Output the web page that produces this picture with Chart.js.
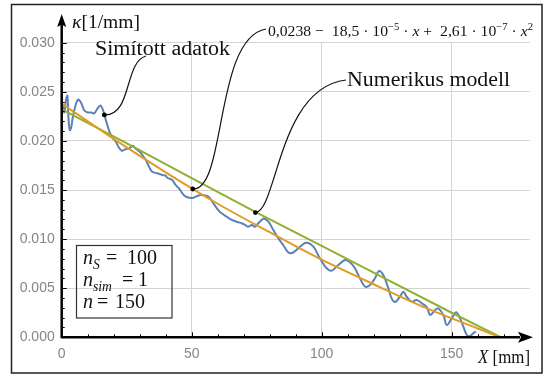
<!DOCTYPE html>
<html>
<head>
<meta charset="utf-8">
<script src="https://cdn.jsdelivr.net/npm/chart.js@4/dist/chart.umd.min.js"></script>
<style>
html,body{margin:0;padding:0;background:#fff;}
canvas{display:block;}
</style>
</head>
<body>
<canvas id="c" width="548" height="376"></canvas>
<script>
// ---- data ----
const blueX = [0.4,1.0,1.65,2.2,2.6,3.1,3.6,4.2,5.2,6.3,7.4,8.7,10.0,11.3,12.5,13.8,14.9,15.8,17.0,18.3,19.6,20.9,21.8,23.1,24.5,26.0,27.3,28.5,30.0,31.0,32.3,33.6,34.8,36.8,38.7,40.0,40.6,42.5,43.8,45.1,46.4,47.7,49.0,50.2,51.8,53.5,55.0,56.6,58.3,60.2,61.5,63.5,65.4,67.3,69.2,70.5,71.8,73.1,74.3,75.6,76.9,77.8,79.5,81.4,83.3,85.2,87.0,88.6,91.0,94.0,96.8,99.3,101.9,103.8,106.4,109.0,110.9,112.8,114.7,116.7,118.6,120.5,122.0,123.7,125.6,126.9,128.2,130.1,131.4,132.7,134.6,136.5,138.5,140.4,141.7,143.6,144.8,146.8,148.1,150.0,151.7,153.2,154.5,155.8,157.0,158.3,159.3];
const blueY = [0.0236,0.0229,0.0242,0.0246,0.0223,0.0211,0.0213,0.0223,0.0235,0.0242,0.0239,0.0231,0.0229,0.0229,0.0228,0.0233,0.0236,0.0232,0.0221,0.0210,0.0203,0.0199,0.0194,0.0190,0.01915,0.01925,0.0195,0.0192,0.0189,0.01858,0.01807,0.01737,0.01686,0.0167,0.01653,0.01646,0.01625,0.01602,0.01551,0.01517,0.01466,0.01432,0.01422,0.01418,0.01435,0.01449,0.01445,0.0143,0.01365,0.01296,0.01263,0.01228,0.01195,0.01177,0.01161,0.01144,0.01126,0.01144,0.01126,0.01161,0.01195,0.0121,0.01177,0.01093,0.01008,0.0094,0.00869,0.00858,0.00906,0.00963,0.00923,0.00804,0.00703,0.00678,0.00736,0.00787,0.00764,0.00703,0.00601,0.00515,0.00533,0.00601,0.00675,0.00634,0.00502,0.00397,0.00359,0.00413,0.00464,0.00413,0.00363,0.0038,0.00346,0.00309,0.00227,0.00278,0.00295,0.00227,0.00125,0.00193,0.00256,0.00193,0.00108,0.00023,0.00013,0.00041,0.00057];
const orangeX = [0,20,40,60,80,100,120,140,160,168.6];
const orangeY = [0.0238,0.0202,0.0168,0.0136,0.0107,0.0079,0.0054,0.0030,0.0009,0.0];
const greenX = [0,24,50,75,100,125,150,169];
const greenY = [0.0232,0.0199,0.0162,0.0127,0.0093,0.0059,0.0025,0.0];
const xTickValues = [0,50,100,150];
const yTickValues = [0,0.005,0.010,0.015,0.020,0.025,0.030];
const labelBlue = 'Simított adatok';
const labelGreen = 'Numerikus modell';
const dotBlue = [16.4, 0.02265];
const dotOrange = [50.4, 0.0151];
const dotGreen = [74.5, 0.0127];

const SERIF = '"Liberation Serif", "Times New Roman", serif';
const SANS = '"Liberation Sans", Arial, sans-serif';

function toPts(xs, ys){ return xs.map((x,i)=>({x:x, y:ys[i]})); }

function runFont(r, size){
  const s = (r.sup||r.sub) ? size*0.68 : size;
  return (r.i ? 'italic ' : '') + s + 'px ' + SERIF;
}
function runsWidth(ctx, runs, size){
  let w = 0;
  runs.forEach(r=>{ ctx.font = runFont(r,size); w += ctx.measureText(r.t).width; });
  return w;
}
function drawRuns(ctx, runs, x, y, size){
  runs.forEach(r=>{
    ctx.font = runFont(r,size);
    let dy = r.sup ? -size*0.38 : (r.sub ? size*0.25 : 0);
    ctx.fillText(r.t, x, y+dy);
    x += ctx.measureText(r.t).width;
  });
}
// draw at a given size, stretched horizontally to a target width
function fitRuns(ctx, runs, x, y, size, targetW){
  const w = runsWidth(ctx, runs, size);
  ctx.save();
  ctx.translate(x, y);
  ctx.scale(targetW / w, 1);
  drawRuns(ctx, runs, 0, 0, size);
  ctx.restore();
}

const deco = {
  id:'deco',
  beforeDraw(chart){
    const ctx = chart.ctx;
    ctx.save(); ctx.fillStyle='#fff'; ctx.fillRect(0,0,chart.width,chart.height); ctx.restore();
  },
  afterDatasetsDraw(chart){
    const ctx = chart.ctx;
    const xs = chart.scales.x, ys = chart.scales.y;
    const x0 = xs.getPixelForValue(0), y0 = ys.getPixelForValue(0);
    ctx.save();
    ctx.strokeStyle = '#000'; ctx.fillStyle = '#000';
    // minor/major ticks (inward)
    ctx.lineWidth = 1;
    for (let v=10; v<=170; v+=10){
      const p = Math.round(xs.getPixelForValue(v))+0.5;
      const L = (v%50===0) ? 5 : 3;
      ctx.beginPath(); ctx.moveTo(p, y0); ctx.lineTo(p, y0-L); ctx.stroke();
    }
    for (let k=1; k<=30; k++){
      const p = Math.round(ys.getPixelForValue(k/1000))+0.5;
      const L = (k%5===0) ? 5 : 3;
      ctx.beginPath(); ctx.moveTo(x0, p); ctx.lineTo(x0+L, p); ctx.stroke();
    }
    // axes
    ctx.lineWidth = 2.5;
    ctx.beginPath(); ctx.moveTo(x0, y0); ctx.lineTo(520, y0); ctx.stroke();
    ctx.beginPath(); ctx.moveTo(x0, y0+1); ctx.lineTo(x0, 24); ctx.stroke();
    ctx.beginPath(); ctx.moveTo(533, y0); ctx.lineTo(518, y0-5.5); ctx.lineTo(521, y0); ctx.lineTo(518, y0+5.5); ctx.closePath(); ctx.fill();
    ctx.beginPath(); ctx.moveTo(x0, 14); ctx.lineTo(x0-4.5, 27); ctx.lineTo(x0, 24.5); ctx.lineTo(x0+4.5, 27); ctx.closePath(); ctx.fill();

    // leader curves
    const px = p => [xs.getPixelForValue(p[0]), ys.getPixelForValue(p[1])];
    const b = px(dotBlue), o = px(dotOrange), g = px(dotGreen);
    ctx.lineWidth = 1.2; ctx.strokeStyle = '#111';
    ctx.beginPath(); ctx.moveTo(b[0], b[1]); ctx.bezierCurveTo(b[0]+28, b[1]+1, 124, 62, 146, 56); ctx.stroke();
    ctx.beginPath(); ctx.moveTo(o[0], o[1]); ctx.bezierCurveTo(o[0]+34, o[1]+2, 214, 38, 266, 29); ctx.stroke();
    ctx.beginPath(); ctx.moveTo(g[0], g[1]); ctx.bezierCurveTo(g[0]+22, g[1]-2, 278, 88, 346, 80); ctx.stroke();
    [b,o,g].forEach(p=>{ ctx.beginPath(); ctx.arc(p[0], p[1], 2.4, 0, Math.PI*2); ctx.fillStyle='#000'; ctx.fill(); });

    // texts
    ctx.fillStyle = '#111';
    ctx.textBaseline = 'alphabetic'; ctx.textAlign = 'left';
    fitRuns(ctx, [{t:labelBlue}], 95, 55, 20, 135);
    fitRuns(ctx, [{t:labelGreen}], 347, 86, 21.5, 163);
    fitRuns(ctx, [{t:'0,0238 \u2212  18,5 \u00b7 10'},{t:'\u22125',sup:true},{t:' \u00b7 '},{t:'x',i:true},{t:' +  2,61 \u00b7 10'},{t:'\u22127',sup:true},{t:' \u00b7 '},{t:'x',i:true},{t:'2',sup:true}], 268, 36, 15.5, 265);
    fitRuns(ctx, [{t:'\u03ba',i:true},{t:'[1/mm]'}], 72, 28, 19, 68);
    fitRuns(ctx, [{t:'X',i:true},{t:' [mm]'}], 478, 363, 18, 52);

    // parameter box
    ctx.lineWidth = 1.2; ctx.strokeStyle = '#333';
    ctx.strokeRect(76.5, 245.5, 95.5, 72.5);
    ctx.fillStyle = '#111';
    const fs = 20;
    drawRuns(ctx, [{t:'n',i:true},{t:'S',i:true,sub:true}], 83, 264, fs);
    drawRuns(ctx, [{t:'='}], 106, 264, fs); drawRuns(ctx, [{t:'100'}], 127, 264, fs);
    drawRuns(ctx, [{t:'n',i:true},{t:'sim',i:true,sub:true}], 83, 286, fs);
    drawRuns(ctx, [{t:'='}], 122, 286, fs); drawRuns(ctx, [{t:'1'}], 138, 286, fs);
    drawRuns(ctx, [{t:'n',i:true}], 83, 308, fs);
    drawRuns(ctx, [{t:'='}], 97, 308, fs); drawRuns(ctx, [{t:'150'}], 115, 308, fs);

    // outer frame
    ctx.lineWidth = 1.5; ctx.strokeStyle = '#222';
    ctx.strokeRect(11.5, 4.5, 530.5, 368.5);
    ctx.restore();
  }
};

const near = (a,b)=>Math.abs(a-b)<1e-9;

new Chart(document.getElementById('c'), {
  type:'scatter',
  data:{ datasets:[
    {data:toPts(orangeX, orangeY), showLine:true, borderColor:'#e19c24', borderWidth:2, pointRadius:0, tension:0.4, cubicInterpolationMode:'monotone'},
    {data:toPts(greenX, greenY), showLine:true, borderColor:'#8fb032', borderWidth:2, pointRadius:0, tension:0},
    {data:toPts(blueX, blueY), showLine:true, borderColor:'#5e81b5', borderWidth:2, pointRadius:0, tension:0.35}
  ]},
  options:{
    responsive:false, animation:false, devicePixelRatio:1,
    layout:{padding:{left:0, right:18.3, top:42.7, bottom:0}},
    plugins:{legend:{display:false}, tooltip:{enabled:false}},
    scales:{
      x:{
        type:'linear', min:0, max:180,
        afterFit(s){ s.height = 38.7; },
        afterBuildTicks(s){ s.ticks = xTickValues.map(v=>({value:v})); },
        border:{display:false},
        grid:{drawTicks:false, color:c=> (c.tick && c.tick.value===0) ? 'rgba(0,0,0,0)' : '#d4d4d4', lineWidth:1},
        ticks:{padding:8, color:'#858585', font:{family:SANS, size:14}, maxRotation:0, autoSkip:false, callback:v=>String(v)}
      },
      y:{
        type:'linear', min:0, max:0.030,
        afterFit(s){ s.width = 61.7; },
        afterBuildTicks(s){ s.ticks = yTickValues.map(v=>({value:v})); },
        border:{display:false},
        grid:{drawTicks:false, color:c=> (c.tick && near(c.tick.value,0)) ? 'rgba(0,0,0,0)' : '#d4d4d4', lineWidth:1},
        ticks:{padding:7, color:'#858585', font:{family:SANS, size:14}, autoSkip:false, callback:v=>Number(v).toFixed(3)}
      }
    }
  },
  plugins:[deco]
});
</script>
</body>
</html>
